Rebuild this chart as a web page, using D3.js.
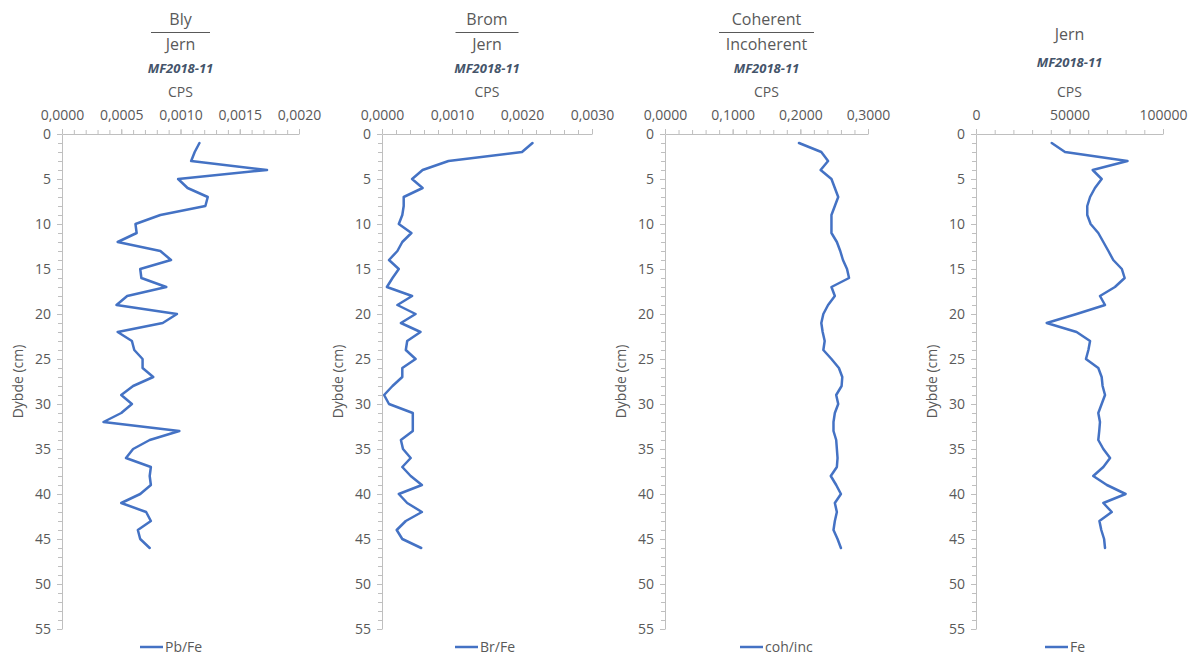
<!DOCTYPE html>
<html>
<head>
<meta charset="utf-8">
<script src="https://cdn.jsdelivr.net/npm/d3@7"></script>
<style>
  html, body { margin: 0; padding: 0; background: #ffffff; }
  svg { display: block; }
  text { font-family: "Open Sans", "Noto Sans", sans-serif; fill: #595959; }
</style>
</head>
<body>
<svg id="chart" width="1201" height="657"></svg>
<script>
// ---------------- DATA ----------------
const depth = [1,2,3,4,5,6,7,8,9,10,11,12,13,14,15,16,17,18,19,20,21,22,23,24,25,26,27,28,29,30,31,32,33,34,35,36,37,38,39,40,41,42,43,44,45,46];

const pbFe = [0.00116,0.00112,0.00109,0.00173,0.00098,0.00106,0.00123,0.00121,0.00083,0.00062,
              0.00063,0.00047,0.00083,0.00092,0.00066,0.00067,0.00088,0.00055,0.00046,0.00097,
              0.00085,0.00047,0.00059,0.00061,0.00068,0.00068,0.00077,0.00060,0.00050,0.00059,
              0.00050,0.00035,0.00099,0.00074,0.00060,0.00054,0.00075,0.00074,0.00075,0.00066,
              0.00050,0.00071,0.00075,0.00064,0.00066,0.00074];

const brFe = [0.00215,0.00200,0.00095,0.00058,0.00043,0.00058,0.00031,0.00031,0.00029,0.00024,
              0.00042,0.00029,0.00022,0.00010,0.00024,0.00015,0.00007,0.00043,0.00022,0.00048,
              0.00027,0.00055,0.00036,0.00034,0.00048,0.00029,0.00029,0.00015,0.00003,0.00010,
              0.00044,0.00044,0.00044,0.00027,0.00030,0.00041,0.00029,0.00041,0.00057,0.00024,
              0.00036,0.00057,0.00034,0.00021,0.00029,0.00056];

const cohInc = [0.198,0.231,0.241,0.230,0.246,0.251,0.256,0.251,0.246,0.246,
                0.246,0.254,0.259,0.263,0.269,0.272,0.246,0.251,0.241,0.234,
                0.231,0.233,0.236,0.234,0.246,0.257,0.262,0.261,0.253,0.256,
                0.251,0.249,0.249,0.253,0.254,0.255,0.254,0.245,0.253,0.260,
                0.251,0.254,0.251,0.249,0.255,0.260];

const fe = [40500,47600,81000,62400,67200,63600,61000,59500,59500,61300,
            65400,68100,70800,73400,78000,79500,74300,66300,69000,53800,
            37800,53800,61000,60100,58800,65400,67200,67700,69000,67200,
            65400,66300,65900,65400,68100,71700,68100,62700,70000,80000,
            68100,72600,66000,67000,68500,69000];

const depthTicks = [0,5,10,15,20,25,30,35,40,45,50,55];
const depthMinor = [0,1,2,3,4,5,6,7,8,9,10,11,12,13,14,15,16,17,18,19,20,21,22,23,24,25,26,27,28,29,30,31,32,33,34,35,36,37,38,39,40,41,42,43,44,45,46,47,48,49,50,51,52,53,54,55];

const ticksPb = [0, 0.0005, 0.0010, 0.0015, 0.0020];
const ticksBr = [0, 0.0010, 0.0020, 0.0030];
const ticksCoh = [0, 0.1, 0.2, 0.3];
const ticksFe = [0, 50000, 100000];

const minorPb = [0,0.0001,0.0002,0.0003,0.0004,0.0005,0.0006,0.0007,0.0008,0.0009,0.0010,0.0011,0.0012,0.0013,0.0014,0.0015,0.0016,0.0017,0.0018,0.0019,0.0020];
const minorBr = [0,0.0002,0.0004,0.0006,0.0008,0.0010,0.0012,0.0014,0.0016,0.0018,0.0020,0.0022,0.0024,0.0026,0.0028,0.0030];
const minorCoh = [0,0.02,0.04,0.06,0.08,0.10,0.12,0.14,0.16,0.18,0.20,0.22,0.24,0.26,0.28,0.30];
const minorFe = [0,10000,20000,30000,40000,50000,60000,70000,80000,90000,100000];

const titleTop = ["Bly", "Brom", "Coherent", null];
const titleBottom = ["Jern", "Jern", "Incoherent", "Jern"];
const sampleName = "MF2018-11";
const unitLabel = "CPS";
const depthLabel = "Dybde (cm)";
const seriesNames = ["Pb/Fe", "Br/Fe", "coh/inc", "Fe"];

// ---------------- LAYOUT ----------------
const loc = d3.formatLocale({decimal: ",", thousands: "", grouping: [3], currency: ["", ""]});

const panels = [
  {vals: pbFe,   x0: 62,  x1: 299,  dom: [0, 0.002],  ticks: ticksPb,  minor: minorPb,  fmt: loc.format(".4f"), rule: 59, legendX: 140},
  {vals: brFe,   x0: 382, x1: 592,  dom: [0, 0.003],  ticks: ticksBr,  minor: minorBr,  fmt: loc.format(".4f"), rule: 63, legendX: 455},
  {vals: cohInc, x0: 665, x1: 868,  dom: [0, 0.3],    ticks: ticksCoh, minor: minorCoh, fmt: loc.format(".4f"), rule: 95, legendX: 740},
  {vals: fe,     x0: 976, x1: 1163, dom: [0, 100000], ticks: ticksFe,  minor: minorFe,  fmt: loc.format("d"),   rule: 0,  legendX: 1045}
];

const yTop = 134, yBot = 629;
const axisColor = "#bfbfbf";
const lineColor = "#4472c4";
const textColor = "#595959";

const svg = d3.select("#chart");
svg.append("rect").attr("width", 1201).attr("height", 657).attr("fill", "#ffffff");

const y = d3.scaleLinear().domain([0, 55]).range([yTop, yBot]);

panels.forEach((p, i) => {
  const x = d3.scaleLinear().domain(p.dom).range([p.x0, p.x1]);
  const cx = (p.x0 + p.x1) / 2;
  const g = svg.append("g");

  // Titles
  if (titleTop[i]) {
    g.append("text").attr("x", cx).attr("y", 25).attr("text-anchor", "middle")
      .style("font-size", "16px").text(titleTop[i]);
    g.append("line").attr("x1", cx - p.rule / 2).attr("x2", cx + p.rule / 2)
      .attr("y1", 32.5).attr("y2", 32.5).attr("stroke", textColor).attr("stroke-width", 1);
    g.append("text").attr("x", cx).attr("y", 50).attr("text-anchor", "middle")
      .style("font-size", "16px").text(titleBottom[i]);
    g.append("text").attr("x", cx).attr("y", 73).attr("text-anchor", "middle")
      .style("font-size", "13px").style("font-weight", "bold").style("font-style", "italic")
      .style("fill", "#44546a").text(sampleName);
  } else {
    g.append("text").attr("x", cx).attr("y", 40).attr("text-anchor", "middle")
      .style("font-size", "16px").text(titleBottom[i]);
    g.append("text").attr("x", cx).attr("y", 67).attr("text-anchor", "middle")
      .style("font-size", "13px").style("font-weight", "bold").style("font-style", "italic")
      .style("fill", "#44546a").text(sampleName);
  }
  g.append("text").attr("x", cx).attr("y", 97).attr("text-anchor", "middle")
    .style("font-size", "14px").text(unitLabel);

  // X axis minor ticks
  const xMinor = g.append("g").attr("transform", `translate(0,${yTop})`)
    .call(d3.axisTop(x).tickValues(p.minor).tickSize(4).tickFormat(""));
  xMinor.select(".domain").remove();
  xMinor.selectAll("line").attr("stroke", axisColor);

  // X axis major
  const xAx = g.append("g").attr("transform", `translate(0,${yTop})`)
    .call(d3.axisTop(x).tickValues(p.ticks).tickSize(5).tickSizeOuter(0).tickPadding(9).tickFormat(p.fmt));
  xAx.select(".domain").attr("stroke", axisColor);
  xAx.selectAll("line").attr("stroke", axisColor);
  xAx.selectAll("text").style("font-size", "14px").style("fill", textColor)
    .style("font-family", '"Open Sans", sans-serif');

  // Y axis minor ticks
  const yMinor = g.append("g").attr("transform", `translate(${p.x0},0)`)
    .call(d3.axisLeft(y).tickValues(depthMinor).tickSize(4).tickFormat(""));
  yMinor.select(".domain").remove();
  yMinor.selectAll("line").attr("stroke", axisColor);

  // Y axis major
  const yAx = g.append("g").attr("transform", `translate(${p.x0},0)`)
    .call(d3.axisLeft(y).tickValues(depthTicks).tickSize(5).tickSizeOuter(0).tickPadding(6));
  yAx.select(".domain").attr("stroke", axisColor);
  yAx.selectAll("line").attr("stroke", axisColor);
  yAx.selectAll("text").style("font-size", "14px").style("fill", textColor)
    .style("font-family", '"Open Sans", sans-serif');

  // Y axis title
  g.append("text")
    .attr("transform", `translate(${p.x0 - 44},${(yTop + yBot) / 2}) rotate(-90)`)
    .attr("text-anchor", "middle").attr("dy", "0.35em")
    .style("font-size", "14px").text(depthLabel);

  // Series line
  const line = d3.line().x(d => x(d[1])).y(d => y(d[0]));
  g.append("path")
    .datum(depth.map((d, k) => [d, p.vals[k]]))
    .attr("d", line)
    .attr("fill", "none").attr("stroke", lineColor).attr("stroke-width", 2.5)
    .attr("stroke-linejoin", "round").attr("stroke-linecap", "round");

  // Legend
  g.append("line").attr("x1", p.legendX).attr("x2", p.legendX + 23)
    .attr("y1", 647).attr("y2", 647)
    .attr("stroke", lineColor).attr("stroke-width", 2.5);
  g.append("text").attr("x", p.legendX + 25).attr("y", 647).attr("dy", "0.35em")
    .style("font-size", "14px").text(seriesNames[i]);
});
</script>
</body>
</html>
